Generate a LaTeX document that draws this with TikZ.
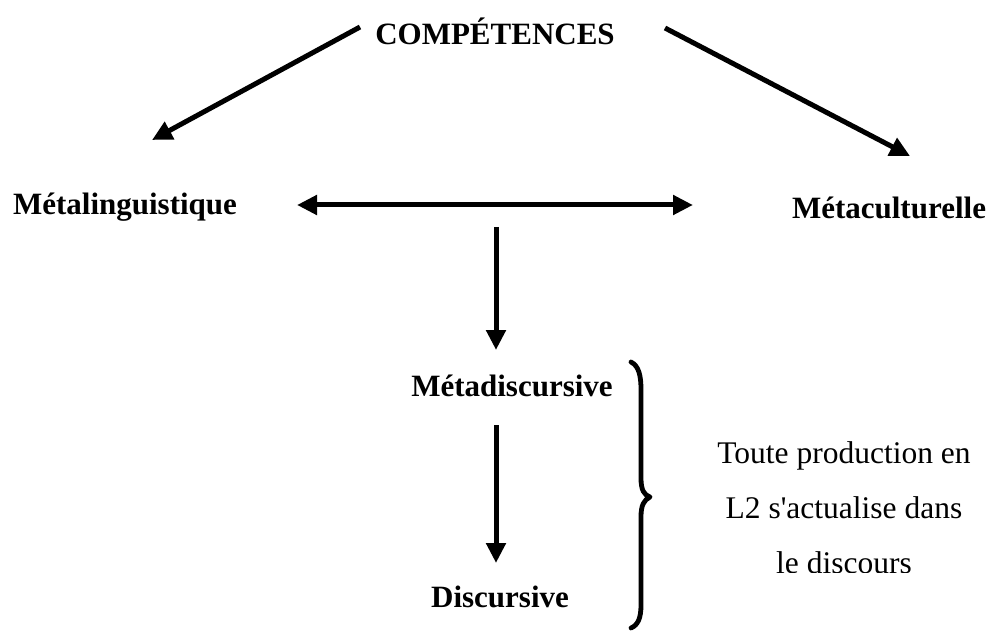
\documentclass[tikz,border=0pt]{standalone}
\usepackage{fontspec}
\setmainfont{Liberation Serif}
\newfontfamily\notefont{Liberation Serif}[Ligatures=TeXOff]
\usetikzlibrary{arrows.meta}
\tikzset{
  lbl/.style={font=\fontsize{31}{36}\selectfont\bfseries, inner sep=0pt},
  note/.style={font=\notefont\fontsize{31.5}{55}\selectfont, inner sep=0pt, align=center},
  arr/.style={line width=5pt, -{Triangle[length=20pt,width=19pt]}},
  darr/.style={line width=5pt, {Triangle[length=20pt,width=19pt]}-{Triangle[length=20pt,width=19pt]}},
  bracestyle/.style={line width=4.8pt, line cap=round, line join=round}
}
\begin{document}
\begin{tikzpicture}[x=1pt,y=-1pt]
\useasboundingbox (0,0) rectangle (994,631);
\node[lbl] (comp) at (495,31) {COMPÉTENCES};
\node[lbl] (mling) at (125,207) {Métalinguistique};
\node[lbl] (mcult) at (889,208) {Métaculturelle};
\node[lbl] (mdisc) at (512,386) {Métadiscursive};
\node[lbl] (disc) at (500,597) {Discursive};
% connector ends
\coordinate (c1s) at (360,27);
\coordinate (c1e) at (152,140);
\coordinate (c2s) at (665,28);
\coordinate (c2e) at (910,156);
\coordinate (hs) at (297,205);
\coordinate (he) at (693,205);
\coordinate (v1s) at (496,227);
\coordinate (v1e) at (496,350);
\coordinate (v2s) at (496,425);
\coordinate (v2e) at (496,563);
\draw[arr] (c1s) -- (c1e);
\draw[arr] (c2s) -- (c2e);
\draw[darr] (hs) -- (he);
\draw[arr] (v1s) -- (v1e);
\draw[arr] (v2s) -- (v2e);
% brace
\draw[bracestyle] (631,362) .. controls (639,366) and (641,376) .. (641,390)
  -- (641,478) .. controls (641,490) and (644,495) .. (650,497)
  .. controls (644,500) and (641,505) .. (641,517)
  -- (641,605) .. controls (641,618) and (638,625) .. (631,628);
\begin{scope}
\clip (660,400) rectangle (994,572);
\node[note] (txt) at (844,508) {Toute production en\\L2 s'actualise dans\\le discours};
\end{scope}
\end{tikzpicture}
\end{document}
